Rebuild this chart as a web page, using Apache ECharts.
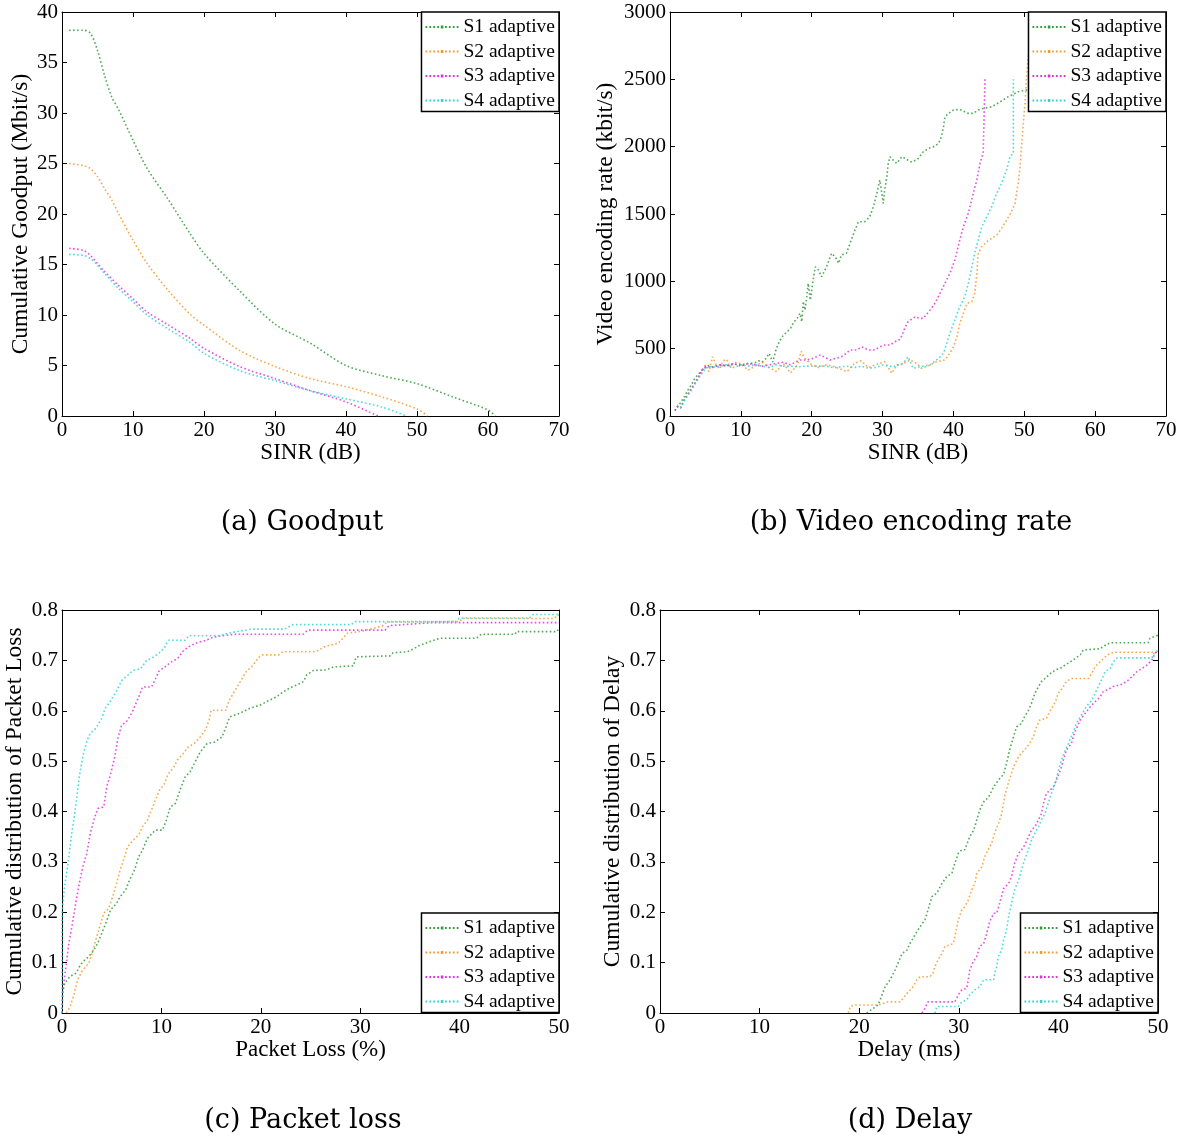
<!DOCTYPE html>
<html>
<head>
<meta charset="utf-8">
<script src="https://cdn.jsdelivr.net/npm/echarts@6/dist/echarts.min.js"></script>
<style>
html,body{margin:0;padding:0;background:#fff;}
#chart{width:1200px;height:1142px;}
</style>
</head>
<body>
<div id="chart"></div>
<script>
// ---------- names, labels ----------
const seriesNames = ['S1 adaptive', 'S2 adaptive', 'S3 adaptive', 'S4 adaptive'];
const panelTitles = ['(a) Goodput', '(b) Video encoding rate', '(c) Packet loss', '(d) Delay'];
const xAxisNames = ['SINR (dB)', 'SINR (dB)', 'Packet Loss (%)', 'Delay (ms)'];
const yAxisNames = ['Cumulative Goodput (Mbit/s)', 'Video encoding rate (kbit/s)',
  'Cumulative distribution of Packet Loss', 'Cumulative distribution of Delay'];

// ---------- (a) Goodput vs SINR ----------
const goodputS1 = [[1,38.2],[3,38.2],[4,37.9],[5,36.2],[6,33.7],[7,31.6],[8,30.3],[10,27.3],[12,24.5],[15,21.4],[18,18.1],[20,16.1],[25,12.4],[30,9.1],[35,7.2],[40,5.0],[45,4.0],[50,3.2],[55,1.9],[60,0.6],[61,0]];
const goodputS2 = [[1,25],[3,24.8],[4,24.5],[5,23.7],[6,22.5],[7,21.4],[8,20.0],[10,17.4],[12,15.1],[15,12.4],[18,10.1],[20,9.0],[25,6.5],[30,4.9],[35,3.7],[40,2.9],[45,1.9],[50,0.7],[51.5,0]];
const goodputS3 = [[1,16.6],[3,16.4],[4,15.9],[5,15.1],[6,14.3],[8,12.9],[10,11.6],[12,10.3],[15,9.0],[18,7.7],[20,6.7],[25,4.9],[30,3.7],[35,2.5],[40,1.4],[44.5,0]];
const goodputS4 = [[1,16.0],[3,15.9],[4,15.6],[5,14.9],[6,14.1],[8,12.6],[10,11.3],[12,10.0],[15,8.6],[18,7.3],[20,6.2],[25,4.5],[30,3.5],[35,2.5],[40,1.7],[45,0.9],[48.5,0]];

// ---------- (b) Video encoding rate vs SINR ----------
const rateS1 = [[0.7,40],[1,60],[1.5,100],[2,140],[2.5,190],[3,230],[3.5,280],[4,310],[4.5,340],[5,360],[5.5,375],[6,365],[7,380],[8,375],[9,385],[10,380],[11,390],[12,395],[12.5,410],[13,400],[13.5,425],[14,465],[14.5,400],[15,500],[15.5,560],[16,600],[16.5,625],[17,650],[17.5,700],[17.9,720],[18.35,762],[18.6,700],[18.8,850],[19.05,787],[19.3,886],[19.5,985],[19.8,861],[20,935],[20.2,1010],[20.5,1108],[20.95,1084],[21.4,1034],[22.1,1108],[22.8,1208],[23.3,1183],[23.8,1134],[24.2,1195],[24.9,1208],[25.4,1282],[26.1,1381],[26.6,1443],[27.5,1443],[28.2,1480],[28.7,1554],[29.2,1653],[29.6,1752],[29.9,1653],[30.1,1579],[30.3,1678],[30.6,1777],[30.8,1876],[31.05,1925],[31.5,1900],[32.0,1876],[32.7,1925],[33.2,1913],[33.9,1888],[34.3,1888],[35.05,1913],[35.75,1962],[36.5,1987],[37.2,1999],[37.9,2024],[38.3,2074],[38.6,2148],[38.8,2222],[39.3,2247],[40.0,2272],[40.9,2277],[41.6,2259],[42.1,2247],[42.8,2247],[43.5,2272],[44.2,2284],[45.4,2296],[46.6,2333],[47.7,2370],[49.15,2408],[50.3,2420],[51,2470]];
const rateS2 = [[1.5,60],[2,120],[2.5,160],[3,200],[3.5,240],[4,280],[4.5,330],[5,380],[5.5,330],[6,440],[6.5,380],[7,350],[7.5,410],[8,420],[8.5,360],[9,400],[10,390],[11,340],[12,370],[13,400],[14,360],[15,330],[16,390],[17,320],[18,380],[18.5,480],[19,430],[20,380],[21,360],[22,380],[23,370],[24,350],[25,330],[26,390],[27,410],[28,360],[29,380],[30.3,403],[31.3,317],[32,380],[32.5,379],[33.9,416],[34.8,391],[35.5,354],[36.7,379],[37.6,403],[38.8,416],[39.5,465],[40,514],[40.5,589],[40.9,688],[41.4,762],[41.9,836],[42.6,849],[43,911],[43.3,1059],[43.5,1208],[44,1257],[44.7,1294],[45.4,1319],[46.1,1344],[46.8,1393],[47.5,1455],[48.2,1517],[48.7,1579],[48.9,1653],[49.15,1727],[49.4,1851],[49.6,1999],[49.9,2197],[50.1,2321],[50.3,2494],[50.6,2700]];
const rateS3 = [[0.7,40],[1,70],[1.5,60],[2,120],[3,200],[4,290],[4.5,340],[5,370],[6,360],[7,380],[8,370],[9,390],[10,370],[11,390],[12,380],[13,370],[14,380],[15,390],[16,400],[17,380],[18.3,416],[19.3,416],[20.2,428],[21.2,453],[22.6,416],[24.2,440],[24.9,465],[25.4,490],[26.35,490],[27.05,514],[28,490],[28.9,490],[29.6,514],[30.3,527],[31.05,527],[31.75,552],[32.5,570],[32.9,620],[33.2,663],[33.6,700],[34.6,737],[35.3,725],[35.75,725],[36.7,787],[37.4,837],[38.1,911],[38.8,985],[39.5,1059],[40.2,1158],[40.9,1307],[41.4,1405],[42.1,1505],[42.8,1653],[43.3,1752],[43.75,1876],[44.2,1952],[44.45,2500]];
const rateS4 = [[1,80],[1.5,60],[2,110],[3,190],[4,280],[5,350],[5.5,370],[6,360],[7,370],[8,380],[9,360],[10,380],[11,370],[12,380],[13,370],[14,360],[15,380],[16,370],[17,370],[18,365],[19,370],[20,370],[21,370],[22,370],[23,360],[24,365],[25,370],[26,360],[27,370],[28,355],[29,360],[30.1,379],[31.5,366],[32.9,391],[33.6,440],[34.3,354],[35.3,366],[36.7,379],[37.9,428],[38.6,465],[39.05,540],[39.5,614],[40.2,713],[40.9,811],[41.6,886],[42.1,985],[42.6,1108],[43,1208],[43.5,1307],[44,1405],[44.7,1480],[45.4,1554],[46.1,1653],[46.8,1727],[47.5,1826],[47.98,1925],[48.45,1950],[48.45,2500]];

// ---------- (c) CDF of packet loss ----------
const lossS1 = [[0,0],[0.07,0.04],[0.26,0.059],[0.82,0.073],[1.4,0.079],[1.75,0.092],[2.1,0.102],[2.7,0.112],[3.2,0.125],[3.6,0.139],[4.0,0.158],[4.4,0.178],[4.9,0.205],[5.5,0.218],[5.85,0.231],[6.4,0.244],[6.8,0.264],[7.3,0.284],[7.7,0.310],[8.1,0.323],[8.6,0.347],[9.4,0.363],[10.1,0.363],[10.5,0.383],[10.9,0.409],[11.4,0.416],[12.0,0.449],[12.4,0.469],[12.9,0.479],[13.3,0.495],[13.9,0.518],[14.6,0.535],[15.35,0.538],[16.1,0.548],[16.5,0.568],[16.8,0.584],[16.9,0.588],[17.9,0.595],[18.9,0.605],[19.9,0.611],[20.9,0.621],[21.6,0.628],[22.3,0.638],[22.9,0.645],[23.6,0.651],[24.3,0.658],[24.6,0.671],[25.3,0.680],[26.6,0.681],[27.3,0.687],[29.3,0.689],[29.6,0.707],[33.0,0.709],[33.3,0.715],[34.7,0.717],[35.3,0.722],[36.0,0.730],[36.7,0.735],[38.0,0.744],[41.7,0.744],[42.2,0.752],[45.6,0.752],[45.7,0.757],[49.8,0.757],[50,0.765]];
const lossS2 = [[0.45,0],[0.82,0.013],[1.2,0.036],[1.56,0.066],[2.1,0.086],[2.7,0.099],[3.05,0.119],[3.4,0.145],[3.8,0.172],[4.2,0.198],[4.7,0.208],[5.1,0.231],[5.5,0.258],[5.85,0.284],[6.2,0.304],[6.6,0.330],[7.15,0.343],[7.7,0.353],[8.1,0.370],[8.6,0.383],[9.0,0.403],[9.4,0.423],[9.8,0.442],[10.3,0.455],[10.7,0.475],[11.25,0.488],[11.6,0.502],[12.2,0.515],[12.7,0.528],[13.3,0.535],[13.9,0.548],[14.4,0.561],[14.8,0.581],[15.0,0.601],[16.5,0.601],[16.8,0.620],[17.4,0.640],[18.0,0.660],[18.5,0.677],[19.2,0.690],[19.8,0.706],[20.2,0.711],[21.8,0.711],[22.2,0.717],[25.5,0.717],[26.5,0.728],[27.8,0.734],[28.3,0.745],[28.7,0.754],[30.2,0.758],[31.0,0.762],[32.2,0.768],[32.7,0.776],[40.0,0.777],[40.3,0.783],[49.5,0.783],[49.8,0.790],[50,0.790]];
const lossS3 = [[0,0],[0.07,0.04],[0.26,0.073],[0.45,0.099],[0.63,0.132],[1.0,0.172],[1.38,0.218],[1.75,0.258],[2.1,0.291],[2.5,0.317],[2.85,0.357],[3.2,0.383],[3.6,0.406],[4.2,0.409],[4.5,0.449],[4.9,0.475],[5.3,0.508],[5.65,0.548],[6.0,0.571],[6.6,0.581],[7.15,0.601],[7.7,0.627],[8.1,0.647],[9.0,0.647],[9.4,0.663],[9.8,0.680],[10.3,0.686],[10.9,0.696],[11.6,0.703],[12.2,0.719],[12.9,0.729],[13.7,0.736],[14.4,0.739],[15.2,0.746],[16.1,0.749],[17.6,0.752],[24.3,0.752],[24.7,0.760],[32.5,0.760],[32.9,0.769],[37.3,0.775],[50,0.775]];
const lossS4 = [[0,0],[0,0.198],[0.25,0.25],[0.63,0.30],[1.0,0.36],[1.38,0.41],[1.75,0.47],[2.1,0.51],[2.5,0.54],[2.85,0.555],[3.4,0.565],[4.0,0.585],[4.35,0.605],[4.9,0.62],[5.5,0.64],[6.0,0.66],[6.6,0.67],[7.15,0.68],[7.9,0.683],[8.5,0.70],[9.0,0.704],[9.8,0.715],[10.3,0.725],[10.7,0.74],[12.4,0.74],[12.75,0.749],[15.9,0.749],[16.4,0.752],[17.2,0.756],[19.1,0.762],[22.4,0.762],[23.2,0.771],[29.1,0.771],[29.5,0.777],[39.6,0.777],[40.0,0.784],[47.0,0.784],[47.4,0.791],[50,0.791]];

// ---------- (d) CDF of delay ----------
const delayS1 = [[20.75,0],[21.9,0.016],[22.1,0.026],[22.6,0.052],[23.1,0.066],[23.6,0.085],[23.9,0.099],[24.3,0.118],[24.8,0.125],[25.1,0.138],[25.6,0.155],[26.1,0.171],[26.6,0.185],[26.9,0.204],[27.3,0.231],[27.8,0.238],[28.3,0.257],[28.8,0.271],[29.3,0.277],[29.6,0.297],[29.95,0.317],[30.3,0.324],[30.6,0.324],[31.1,0.350],[31.5,0.363],[31.8,0.383],[32.1,0.403],[32.5,0.419],[33.0,0.429],[33.5,0.449],[34.0,0.463],[34.5,0.474],[34.8,0.496],[35.1,0.522],[35.5,0.549],[35.8,0.568],[36.3,0.575],[36.6,0.588],[37.0,0.601],[37.3,0.615],[37.65,0.635],[38.0,0.648],[38.3,0.658],[38.65,0.664],[39.2,0.674],[39.7,0.681],[40.2,0.684],[40.7,0.691],[41.2,0.697],[41.7,0.704],[42.2,0.711],[42.5,0.721],[44.2,0.723],[44.7,0.730],[45.2,0.735],[49.0,0.735],[49.2,0.744],[50,0.750]];
const delayS2 = [[18.9,0],[19.1,0.013],[19.6,0.016],[21.9,0.016],[22.4,0.019],[22.8,0.022],[24.1,0.022],[24.4,0.029],[24.8,0.039],[25.3,0.049],[25.8,0.066],[26.1,0.072],[27.1,0.072],[27.4,0.079],[27.6,0.092],[27.9,0.105],[28.3,0.118],[28.6,0.132],[29.1,0.135],[29.45,0.138],[29.6,0.151],[29.8,0.171],[29.95,0.185],[30.3,0.204],[30.6,0.211],[30.95,0.224],[31.3,0.244],[31.6,0.257],[31.8,0.277],[32.3,0.290],[32.6,0.310],[32.95,0.324],[33.3,0.337],[33.6,0.357],[34.0,0.377],[34.3,0.395],[34.6,0.43],[35.0,0.458],[35.5,0.489],[36.0,0.509],[36.3,0.516],[36.6,0.522],[37.1,0.535],[37.5,0.549],[37.8,0.568],[38.15,0.582],[38.8,0.585],[39.2,0.601],[39.7,0.618],[40.0,0.635],[40.5,0.648],[40.8,0.658],[41.3,0.664],[43.0,0.664],[43.35,0.674],[43.7,0.688],[44.2,0.697],[44.7,0.707],[45.2,0.714],[45.7,0.716],[50,0.716]];
const delayS3 = [[26.3,0],[26.6,0.009],[26.9,0.022],[29.6,0.022],[29.95,0.036],[30.3,0.046],[30.8,0.049],[30.95,0.066],[31.1,0.085],[31.45,0.102],[31.8,0.112],[32.1,0.132],[32.5,0.138],[32.8,0.158],[33.1,0.181],[33.5,0.198],[33.8,0.198],[34.1,0.218],[34.5,0.247],[35.0,0.257],[35.3,0.271],[35.6,0.297],[36.0,0.317],[36.3,0.324],[36.6,0.333],[37.0,0.350],[37.3,0.363],[37.65,0.370],[38.0,0.383],[38.3,0.396],[38.5,0.416],[38.8,0.436],[39.2,0.443],[39.5,0.449],[39.8,0.463],[40.2,0.482],[40.5,0.502],[40.8,0.522],[41.3,0.535],[41.6,0.555],[42.2,0.582],[42.7,0.595],[43.2,0.608],[43.7,0.618],[44.2,0.628],[44.5,0.638],[44.85,0.641],[45.5,0.648],[46.2,0.651],[46.85,0.658],[47.4,0.668],[47.9,0.678],[48.4,0.684],[48.9,0.691],[49.4,0.701],[49.7,0.714],[50,0.72]];
const delayS4 = [[27.6,0],[27.8,0.013],[29.95,0.013],[30.3,0.022],[30.8,0.026],[31.1,0.036],[31.6,0.046],[32.1,0.052],[32.5,0.066],[33.5,0.066],[33.6,0.079],[33.8,0.092],[33.97,0.112],[34.3,0.125],[34.5,0.145],[34.8,0.165],[35.0,0.191],[35.3,0.218],[35.6,0.244],[36.0,0.264],[36.3,0.284],[36.6,0.304],[37.0,0.324],[37.3,0.343],[37.65,0.357],[38.0,0.370],[38.3,0.383],[38.65,0.396],[38.97,0.416],[39.3,0.436],[39.7,0.456],[40.0,0.482],[40.3,0.502],[40.7,0.522],[41.0,0.535],[41.5,0.558],[41.8,0.575],[42.3,0.591],[42.8,0.608],[43.35,0.621],[43.7,0.635],[44.0,0.648],[44.4,0.664],[44.7,0.678],[45.2,0.684],[45.5,0.697],[45.9,0.705],[49.4,0.705],[49.6,0.714],[50,0.72]];

// ---------- axis ranges (min, max, interval) ----------
const xRanges = [[0,70,10],[0,70,10],[0,50,10],[0,50,10]];
const yRanges = [[0,40,5],[0,3000,500],[0,0.8,0.1],[0,0.8,0.1]];

// ---------- styling ----------
const colors = ['#2e9e35', '#f59a2e', '#e030e0', '#30d4d4'];
const SERIF = '"Liberation Serif", "Times New Roman", serif';
const grids = [
  {left: 62, top: 12, width: 497, height: 404},
  {left: 670, top: 12, width: 496, height: 404},
  {left: 62, top: 610, width: 497, height: 403},
  {left: 660, top: 610, width: 498, height: 403}
];
const yNameGaps = [29, 52, 35, 35];
const smoothFlags = [0.3, false, false, false];
const panelData = [
  [goodputS1, goodputS2, goodputS3, goodputS4],
  [rateS1, rateS2, rateS3, rateS4],
  [lossS1, lossS2, lossS3, lossS4],
  [delayS1, delayS2, delayS3, delayS4]
];
const legendPos = [
  {right: 1200 - 559, top: 12},
  {right: 1200 - 1166, top: 12},
  {right: 1200 - 559, top: 913},
  {right: 1200 - 1158, top: 913}
];
const titlePos = [[302, 523], [911, 523], [303, 1121], [910, 1121]];

// dotted legend sample: small dots with a slightly larger marker in the middle
let dotPath = 'path://';
for (let k = 0; k < 9; k++) {
  const x0 = k * 4;
  if (k === 4) dotPath += 'M' + (x0 - 0.3) + ' 0h2.6v3h-2.6z';
  else dotPath += 'M' + x0 + ' 0.6h1.8v1.8h-1.8z';
}

const fmt = v => (Math.abs(v) < 1 && v !== 0) ? (+v.toFixed(1)).toString() : (+v.toFixed(2)).toString();

const xAxes = [], yAxes = [], series = [], legends = [], graphics = [];
grids.forEach((g, i) => {
  const [xmin, xmax, xint] = xRanges[i];
  const [ymin, ymax, yint] = yRanges[i];
  const lineSt = {color: '#000', width: 1};
  const tick = {show: true, inside: true, length: 5, lineStyle: {color: '#000', width: 1}};
  xAxes.push({
    gridIndex: i, type: 'value', min: xmin, max: xmax, interval: xint, position: 'bottom',
    axisLine: {show: true, onZero: false, lineStyle: lineSt}, axisTick: tick,
    axisLabel: {color: '#000', fontSize: 21, fontFamily: SERIF, margin: 4, formatter: fmt},
    splitLine: {show: false},
    name: xAxisNames[i], nameLocation: 'middle', nameGap: 24,
    nameTextStyle: {color: '#000', fontSize: 23, fontFamily: SERIF}
  });
  xAxes.push({
    gridIndex: i, type: 'value', min: xmin, max: xmax, interval: xint, position: 'top',
    axisLine: {show: true, onZero: false, lineStyle: lineSt}, axisTick: tick,
    axisLabel: {show: false}, splitLine: {show: false}
  });
  yAxes.push({
    gridIndex: i, type: 'value', min: ymin, max: ymax, interval: yint, position: 'left',
    axisLine: {show: true, onZero: false, lineStyle: lineSt}, axisTick: tick,
    axisLabel: {color: '#000', fontSize: 21, fontFamily: SERIF, margin: 4, formatter: fmt},
    splitLine: {show: false},
    name: yAxisNames[i], nameLocation: 'middle', nameGap: yNameGaps[i],
    nameTextStyle: {color: '#000', fontSize: 23.5, fontFamily: SERIF}
  });
  yAxes.push({
    gridIndex: i, type: 'value', min: ymin, max: ymax, interval: yint, position: 'right',
    axisLine: {show: true, onZero: false, lineStyle: lineSt}, axisTick: tick,
    axisLabel: {show: false}, splitLine: {show: false}
  });
  panelData[i].forEach((d, k) => {
    series.push({
      name: seriesNames[k], type: 'line', xAxisIndex: 2 * i, yAxisIndex: 2 * i,
      data: d, showSymbol: false, symbol: 'none', smooth: smoothFlags[i],
      clip: true, animation: false,
      lineStyle: {color: colors[k], width: 1.6, type: [1.6, 2.4], opacity: 0.85},
      itemStyle: {color: colors[k]},
      z: 2
    });
  });
  legends.push(Object.assign({
    data: seriesNames, orient: 'vertical', selectedMode: false,
    icon: dotPath, itemWidth: 33, itemHeight: 14, symbolKeepAspect: true,
    backgroundColor: '#fff', borderColor: '#000', borderWidth: 1.5, borderRadius: 0,
    padding: [5, 4, 1, 4], itemGap: 4.5,
    textStyle: {color: '#000', fontSize: 19.5, fontFamily: SERIF},
    z: 10
  }, legendPos[i]));
  graphics.push({
    type: 'text', x: titlePos[i][0], y: titlePos[i][1],
    style: {text: panelTitles[i], fill: '#000', font: '27px "DejaVu Serif", serif',
      textAlign: 'center', textVerticalAlign: 'middle'}
  });
});

const chart = echarts.init(document.getElementById('chart'), null, {renderer: 'canvas'});
chart.setOption({
  backgroundColor: '#fff',
  animation: false,
  grid: grids,
  xAxis: xAxes,
  yAxis: yAxes,
  legend: legends,
  series: series,
  graphic: graphics
});
</script>
</body>
</html>
